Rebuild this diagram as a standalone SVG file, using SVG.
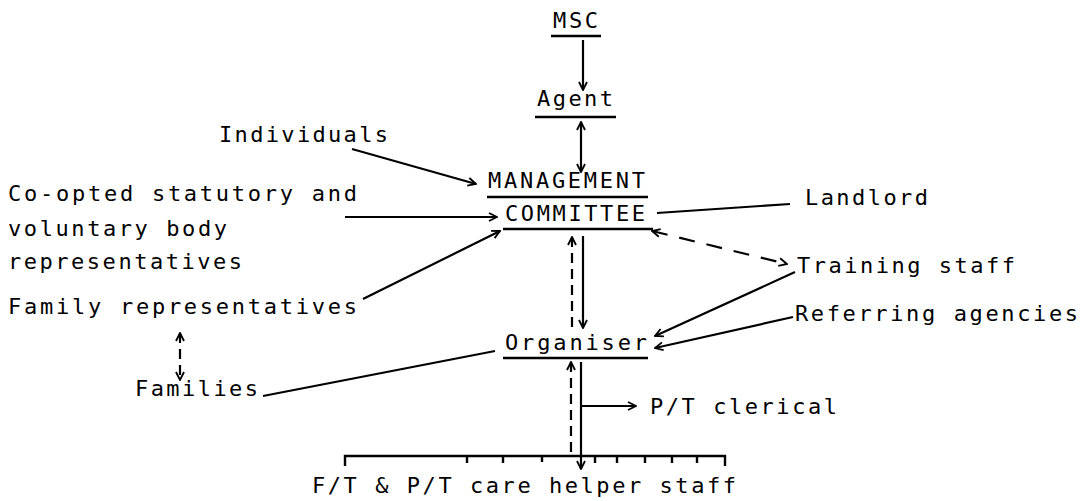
<svg xmlns="http://www.w3.org/2000/svg" width="1088" height="501" viewBox="0 0 1088 501">
<style>
text{font-family:"DejaVu Sans Mono","Liberation Mono",monospace;font-size:22px;fill:#000}
.u{stroke:#000;stroke-width:2.4;fill:none}
.c{stroke:#000;stroke-width:2.2;fill:none}
.d{stroke-dasharray:10 6}
.dl{stroke-dasharray:16 12}
</style>
<defs>
<marker id="ah" viewBox="0 0 10 10" refX="9" refY="5" markerWidth="10" markerHeight="10" markerUnits="userSpaceOnUse" orient="auto-start-reverse">
<path d="M1,1 L9,5 L1,9" fill="none" stroke="#000" stroke-width="1.8"/>
</marker>
</defs>
<rect width="1088" height="501" fill="#fff"/>
<g id="msc"><text x="553" y="28" textLength="45" lengthAdjust="spacing">MSC</text><line class="u" x1="551" y1="36" x2="601" y2="36"/></g>
<g id="agent"><text x="537" y="106" textLength="76" lengthAdjust="spacing">Agent</text><line class="u" x1="535" y1="117" x2="616" y2="117"/></g>
<g id="management-committee"><text x="488" y="188" textLength="157" lengthAdjust="spacing">MANAGEMENT</text><line class="u" x1="487" y1="197" x2="648" y2="197"/><text x="505" y="221" textLength="140" lengthAdjust="spacing">COMMITTEE</text><line class="u" x1="503" y1="229" x2="653" y2="229"/></g>
<g id="individuals"><text x="219" y="142" textLength="169" lengthAdjust="spacing">Individuals</text></g>
<g id="coopted"><text x="8" y="201" textLength="349" lengthAdjust="spacing">Co-opted statutory and</text><text x="8" y="236" textLength="219" lengthAdjust="spacing">voluntary body</text><text x="8" y="269" textLength="234" lengthAdjust="spacing">representatives</text></g>
<g id="family-reps"><text x="8" y="314" textLength="349" lengthAdjust="spacing">Family representatives</text></g>
<g id="families"><text x="135" y="396" textLength="123" lengthAdjust="spacing">Families</text></g>
<g id="landlord"><text x="805" y="205" textLength="123" lengthAdjust="spacing">Landlord</text></g>
<g id="training"><text x="797" y="273" textLength="218" lengthAdjust="spacing">Training staff</text></g>
<g id="referring"><text x="795" y="321" textLength="283" lengthAdjust="spacing">Referring agencies</text></g>
<g id="organiser"><text x="505" y="350" textLength="142" lengthAdjust="spacing">Organiser</text><line class="u" x1="503" y1="358" x2="648" y2="358"/></g>
<g id="clerical"><text x="650" y="414" textLength="187" lengthAdjust="spacing">P/T clerical</text></g>
<g id="staff"><text x="312" y="493" textLength="424" lengthAdjust="spacing">F/T &amp; P/T care helper staff</text>
<path class="u" d="M345,466 V456 H725 V466 M467,456 v7 M503,456 v7 M542,456 v6 M595,456 v7 M617,456 v7 M645,456 v7 M672,456 v7 M697,456 v7"/></g>
<g id="connectors">
<line class="c" x1="583" y1="40" x2="583" y2="90" marker-end="url(#ah)"/>
<line class="c" x1="581" y1="122" x2="581" y2="172" marker-start="url(#ah)" marker-end="url(#ah)"/>
<line class="c" x1="352" y1="149" x2="476" y2="184" marker-end="url(#ah)"/>
<line class="c" x1="345" y1="217" x2="497" y2="217" marker-end="url(#ah)"/>
<line class="c" x1="363" y1="299" x2="500" y2="231" marker-end="url(#ah)"/>
<line class="c" x1="657" y1="213" x2="790" y2="204"/>
<line class="c dl" x1="652" y1="231" x2="787" y2="264" marker-start="url(#ah)" marker-end="url(#ah)"/>
<line class="c d" x1="572" y1="237" x2="572" y2="327" marker-start="url(#ah)"/>
<line class="c" x1="583" y1="236" x2="583" y2="328" marker-end="url(#ah)"/>
<line class="c" x1="795" y1="272" x2="655" y2="336" marker-end="url(#ah)"/>
<line class="c" x1="793" y1="317" x2="655" y2="348" marker-end="url(#ah)"/>
<line class="c" x1="263" y1="396" x2="495" y2="351"/>
<line class="c d" x1="180" y1="333" x2="180" y2="380" marker-start="url(#ah)" marker-end="url(#ah)"/>
<line class="c d" x1="571" y1="362" x2="571" y2="455" marker-start="url(#ah)"/>
<line class="c" x1="581" y1="362" x2="581" y2="469" marker-end="url(#ah)"/>
<line class="c" x1="581" y1="406" x2="636" y2="406" marker-end="url(#ah)"/>
</g>
</svg>
